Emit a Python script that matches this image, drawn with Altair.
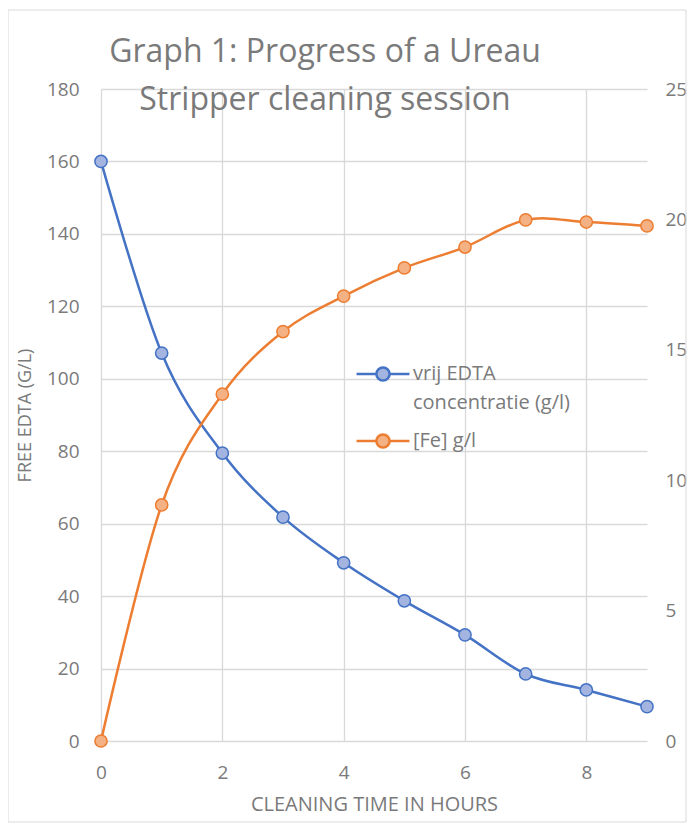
import altair as alt
import pandas as pd

hours = [0, 1, 2, 3, 4, 5, 6, 7, 8, 9]
edta = [160, 107.1, 79.5, 61.8, 49.2, 38.7, 29.3, 18.5, 14.1, 9.5]
fe = [0, 9.05, 13.3, 15.7, 17.06, 18.14, 18.94, 19.98, 19.9, 19.75]

s_edta = "vrij EDTA concentratie (g/l)"
s_fe = "[Fe] g/l"
series_names = [s_edta, s_fe]
line_colors = ["#4472C4", "#ED7D31"]
fill_colors = ["#A3B4E0", "#F4B183"]

x_ticks = [0, 2, 4, 6, 8]
left_ticks = [0, 20, 40, 60, 80, 100, 120, 140, 160, 180]
right_ticks = [0, 5, 10, 15, 20, 25]

df = pd.DataFrame({
    "hours": hours * 2,
    "value": edta + fe,
    "series": [s_edta] * len(hours) + [s_fe] * len(hours),
})

FONT = "Open Sans"
GREY = "#7a7a7a"

r = 0.25
sym = (f"M-1,0L-{r},0M{r},0L1,0M-{r},0A{r},{r},0,1,0,{r},0A{r},{r},0,1,0,-{r},0Z")

legend = alt.Legend(
    title=None, orient="none", legendX=254, legendY=257,
    symbolType=sym, symbolSize=2800, symbolStrokeWidth=2.5,
    labelFont=FONT, labelFontSize=20, labelColor=GREY, labelLimit=300,
    labelOffset=2, rowPadding=-6,
    labelExpr=f"datum.label == '{s_edta}' ? ['vrij EDTA', 'concentratie (g/l)'] : datum.label",
)

stroke_enc = alt.Stroke("series:N", scale=alt.Scale(domain=series_names, range=line_colors), legend=legend)
fill_enc = alt.Fill("series:N", scale=alt.Scale(domain=series_names, range=fill_colors), legend=legend)

x_enc = alt.X("hours:Q", scale=alt.Scale(domain=[0, 9], nice=False),
              axis=alt.Axis(values=x_ticks, title="CLEANING TIME IN HOURS", grid=True,
                            labelPadding=22, titlePadding=12, titleFontSize=20,
                            labelFontSize=19, labelFlush=False))

base = alt.Chart(df)

y_left = alt.Y("value:Q", scale=alt.Scale(domain=[0, 180], nice=False),
               axis=alt.Axis(values=left_ticks, orient="left", title="FREE EDTA (G/L)",
                             grid=True, labelPadding=22, titlePadding=12,
                             titleFontSize=18, labelFontSize=19))
y_right = alt.Y("value:Q", scale=alt.Scale(domain=[0, 25], nice=False),
                axis=alt.Axis(values=right_ticks, orient="right", title=None,
                              grid=False, labelPadding=18, labelFontSize=19))

edta_base = base.transform_filter(alt.datum.series == s_edta)
fe_base = base.transform_filter(alt.datum.series == s_fe)

edta_layer = alt.layer(
    edta_base.mark_line(interpolate="cardinal", strokeWidth=2.5).encode(x=x_enc, y=y_left, stroke=stroke_enc),
    edta_base.mark_point(filled=False, size=150, strokeWidth=1.5, opacity=1).encode(
        x=x_enc, y=y_left, stroke=stroke_enc, fill=fill_enc),
)
fe_layer = alt.layer(
    fe_base.mark_line(interpolate="cardinal", strokeWidth=2.5).encode(x=x_enc, y=y_right, stroke=stroke_enc),
    fe_base.mark_point(filled=False, size=150, strokeWidth=1.5, opacity=1).encode(
        x=x_enc, y=y_right, stroke=stroke_enc, fill=fill_enc),
)

title_df = pd.DataFrame({"t": ["Graph 1: Progress of a Ureau"]})
title1 = alt.Chart(title_df).mark_text(
    font=FONT, fontSize=32, color=GREY, align="center", baseline="alphabetic"
).encode(text="t:N", x=alt.value(224), y=alt.value(-27))
title_df2 = pd.DataFrame({"t": ["Stripper cleaning session"]})
title2 = alt.Chart(title_df2).mark_text(
    font=FONT, fontSize=32, color=GREY, align="center", baseline="alphabetic"
).encode(text="t:N", x=alt.value(224), y=alt.value(21))

border = alt.Chart(title_df).mark_rect(fill=None, stroke="#d9d9d9", strokeWidth=1).encode(
    x=alt.value(-93), x2=alt.value(585), y=alt.value(-79), y2=alt.value(733))

chart = alt.layer(border, edta_layer, fe_layer, title1, title2).resolve_scale(
    y="independent"
).properties(
    width=546, height=652,
    padding={"left": 93, "top": 81, "right": 40, "bottom": 83},
    autosize=alt.AutoSizeParams(type="none"),
    background="white",
).configure(
    style={"guide-label": {"lineHeight": 29}},
).configure_view(stroke=None).configure_axis(
    domain=False, ticks=False, gridColor="#d9d9d9", gridWidth=1.3,
    labelFont=FONT, titleFont=FONT, labelColor=GREY, titleColor=GREY,
    titleFontWeight="normal",
)

chart.save("out.html", embed_options={"renderer": "svg", "actions": False})
